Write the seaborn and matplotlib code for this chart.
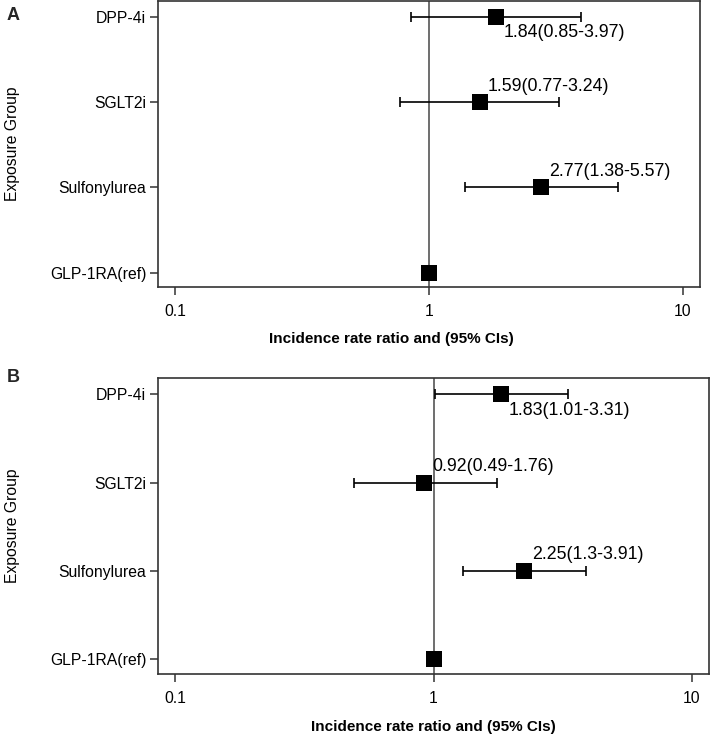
import numpy as np
import pandas as pd
import matplotlib
matplotlib.use("Agg")
import matplotlib.pyplot as plt
import seaborn as sns

sns.set_theme(style="white")
plt.rcParams['font.family'] = ['Liberation Sans', 'DejaVu Sans']

groups = ["GLP-1RA(ref)", "Sulfonylurea", "SGLT2i", "DPP-4i"]

irr_a = [1.0, 2.77, 1.59, 1.84]
lo_a = [np.nan, 1.38, 0.77, 0.85]
hi_a = [np.nan, 5.57, 3.24, 3.97]
lab_a = ["", "2.77(1.38-5.57)", "1.59(0.77-3.24)", "1.84(0.85-3.97)"]
pos_a = ["", "above", "above", "below"]

irr_b = [1.0, 2.25, 0.92, 1.83]
lo_b = [np.nan, 1.3, 0.49, 1.01]
hi_b = [np.nan, 3.91, 1.76, 3.31]
lab_b = ["", "2.25(1.3-3.91)", "0.92(0.49-1.76)", "1.83(1.01-3.31)"]
pos_b = ["", "above", "above", "below"]

fig = plt.figure(figsize=(7.12, 7.39), dpi=100)
W, H = 712, 739

def make_ax(l, t, r, b):
    return fig.add_axes([l / W, 1 - b / H, (r - l) / W, (b - t) / H])

box_a = (158, 1, 700, 287)
box_b = (158, 378, 709, 674)
ax_a = make_ax(*box_a)
ax_b = make_ax(*box_b)

def draw(ax, box, irr, lo, hi, labs, pos, xlab_px, ylab_px):
    l, t, r, b = box
    df = pd.DataFrame({"group": groups, "y": np.arange(len(groups)),
                       "irr": irr, "lo": lo, "hi": hi, "lab": labs, "pos": pos})
    ax.axvline(1.0, color="#555555", lw=1.2, zorder=1)
    for _, rw in df.iterrows():
        if not np.isnan(rw["lo"]):
            ax.errorbar([rw["irr"]], [rw["y"]],
                        xerr=[[rw["irr"] - rw["lo"]], [rw["hi"] - rw["irr"]]],
                        fmt="none", ecolor="black", elinewidth=1.2,
                        capsize=3.5, capthick=1.2, zorder=2)
    sns.scatterplot(data=df, x="irr", y="y", marker="s", s=135, color="black",
                    edgecolor="black", linewidth=0, ax=ax, zorder=3, legend=False)
    for _, rw in df.iterrows():
        if rw["lab"]:
            dy = 11.5 if rw["pos"] == "above" else -11.5
            ax.annotate(rw["lab"], (rw["irr"], rw["y"]), xytext=(5.5, dy),
                        textcoords="offset points", ha="left", va="center",
                        fontsize=12.8, color="black")
    ax.set_xscale("log")
    ax.set_xlim(10 ** -1.067, 10 ** 1.067)
    ax.set_ylim(-0.17, 3.185)
    ax.set_xticks([0.1, 1, 10])
    ax.set_xticklabels(["0.1", "1", "10"])
    ax.xaxis.set_minor_locator(matplotlib.ticker.NullLocator())
    ax.set_yticks(df["y"])
    ax.set_yticklabels(df["group"])
    ax.tick_params(axis="both", which="major", direction="out", length=5.5,
                   width=1.1, color="#333333", labelsize=11.3, labelcolor="black",
                   left=True, bottom=True, pad=3)
    ax.tick_params(axis="x", pad=7)
    for s in ax.spines.values():
        s.set_color("#333333")
        s.set_linewidth(1.2)
    ax.set_xlabel("Incidence rate ratio and (95% CIs)", fontsize=11,
                  fontweight="bold", color="black", va="center")
    ax.set_ylabel("Exposure Group", fontsize=11.3, color="black", va="center")
    wpx, hpx = r - l, b - t
    ax.xaxis.set_label_coords((xlab_px[0] - l) / wpx, -(xlab_px[1] - b) / hpx)
    ax.yaxis.set_label_coords(-(l - ylab_px) / wpx, 0.5)
    ax.grid(False)
    return ax

draw(ax_a, box_a, irr_a, lo_a, hi_a, lab_a, pos_a, (391, 339), 13)
draw(ax_b, box_b, irr_b, lo_b, hi_b, lab_b, pos_b, (433, 727), 13)

fig.text(13 / W, 1 - 16 / H, "A", fontsize=13, fontweight="bold", ha="center", va="center")
fig.text(13 / W, 1 - 378 / H, "B", fontsize=13, fontweight="bold", ha="center", va="center")

fig.savefig("out.png", dpi=100)
